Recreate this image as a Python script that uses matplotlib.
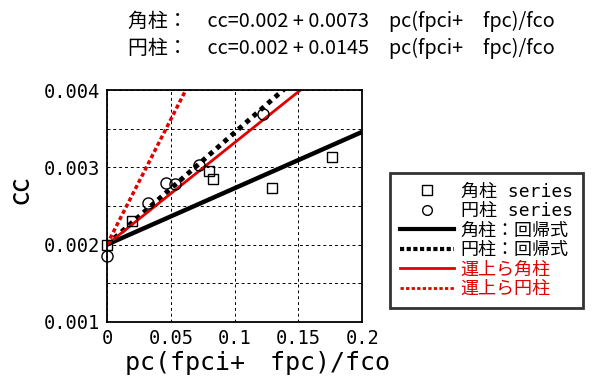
import numpy as np
import matplotlib
matplotlib.use("Agg")
import matplotlib.pyplot as plt
from matplotlib.lines import Line2D

plt.rcParams['font.family'] = ['Noto Sans CJK JP', 'DejaVu Sans']
mono = ['DejaVu Sans Mono', 'Noto Sans CJK JP']

# ---- data ----
sq_x = [0.0, 0.020, 0.080, 0.083, 0.129, 0.176]
sq_y = [0.0020, 0.00231, 0.00295, 0.00285, 0.00273, 0.00314]
ci_x = [0.0, 0.032, 0.046, 0.053, 0.072, 0.122]
ci_y = [0.00185, 0.00254, 0.00280, 0.00278, 0.00303, 0.00369]

intercept = 0.002
slope_kaku = 0.0073      # 角柱：回帰式
slope_en = 0.0145        # 円柱：回帰式
slope_unjo_kaku = 0.0132  # 運上ら角柱
slope_unjo_en = 0.0324    # 運上ら円柱

xs = np.linspace(0, 0.2, 200)

fig = plt.figure(figsize=(5.94, 3.85), dpi=100)
fig.set_facecolor("white")
ax = fig.add_axes([0.180, 0.164, 0.430, 0.602])

ax.plot(xs, intercept + slope_kaku * xs, color='black', lw=3.2, solid_capstyle='butt')
ax.plot(xs, intercept + slope_en * xs, color='black', lw=3.5, linestyle=(0, (1, 1)))
ax.plot(xs, intercept + slope_unjo_kaku * xs, color='#e00000', lw=2)
ax.plot(xs, intercept + slope_unjo_en * xs, color='#e00000', lw=2.5, linestyle=(0, (1.2, 0.8)))
ax.plot(sq_x, sq_y, 's', mfc='none', mec='black', ms=7.5, mew=1.0, clip_on=False)
ax.plot(ci_x, ci_y, 'o', mfc='none', mec='black', ms=8, mew=1.0, clip_on=False)

ax.set_xlim(0, 0.2)
ax.set_ylim(0.001, 0.004)
ax.set_xticks([0, 0.05, 0.1, 0.15, 0.2])
ax.set_xticklabels(['0', '0.05', '0.1', '0.15', '0.2'], family=mono)
ax.set_yticks([0.001, 0.002, 0.003, 0.004])
ax.set_yticklabels(['0.001', '0.002', '0.003', '0.004'], family=mono)
ax.set_yticks(np.arange(0.001, 0.00401, 0.0005), minor=True)
ax.tick_params(axis='both', which='both', direction='in', length=0, labelsize=13.5, pad=5)
ax.grid(True, which='both', color='black', linestyle=(0, (3, 3)), lw=0.7)
for s in ax.spines.values():
    s.set_linewidth(1.3)

ax.set_xlabel("pc(fpci+\u3000fpc)/fco", fontsize=18, family=mono)
ax.xaxis.set_label_coords(0.59, -0.125)
ax.set_ylabel("cc", fontsize=20)
ax.yaxis.set_label_coords(-0.28, 0.57)

fig.text(0.575, 0.945, "角柱：　cc=0.002 + 0.0073　pc(fpci+　fpc)/fco", ha='center', va='center', fontsize=14.3)
fig.text(0.575, 0.875, "円柱：　cc=0.002 + 0.0145　pc(fpci+　fpc)/fco", ha='center', va='center', fontsize=14.3)

handles = [
    Line2D([], [], marker='s', mfc='none', mec='black', ms=7, ls='none'),
    Line2D([], [], marker='o', mfc='none', mec='black', ms=7, ls='none'),
    Line2D([], [], color='black', lw=3),
    Line2D([], [], color='black', lw=3, linestyle=(0, (1, 0.6))),
    Line2D([], [], color='#e00000', lw=2),
    Line2D([], [], color='#e00000', lw=2, linestyle=(0, (1.2, 0.8))),
]
labels = ["角柱 series", "円柱 series", "角柱：回帰式", "円柱：回帰式", "運上ら角柱", "運上ら円柱"]
leg = fig.legend(handles, labels, loc='upper left', bbox_to_anchor=(0.657, 0.551),
                 prop={'family': mono, 'size': 13}, frameon=True, fancybox=False,
                 edgecolor='black', handlelength=3.0, handletextpad=0.35,
                 labelspacing=0.08, borderpad=0.55, borderaxespad=0)
leg.get_frame().set_linewidth(2)
for t in leg.get_texts()[4:]:
    t.set_color('#e00000')

fig.savefig("out.png", dpi=100, facecolor='white')
